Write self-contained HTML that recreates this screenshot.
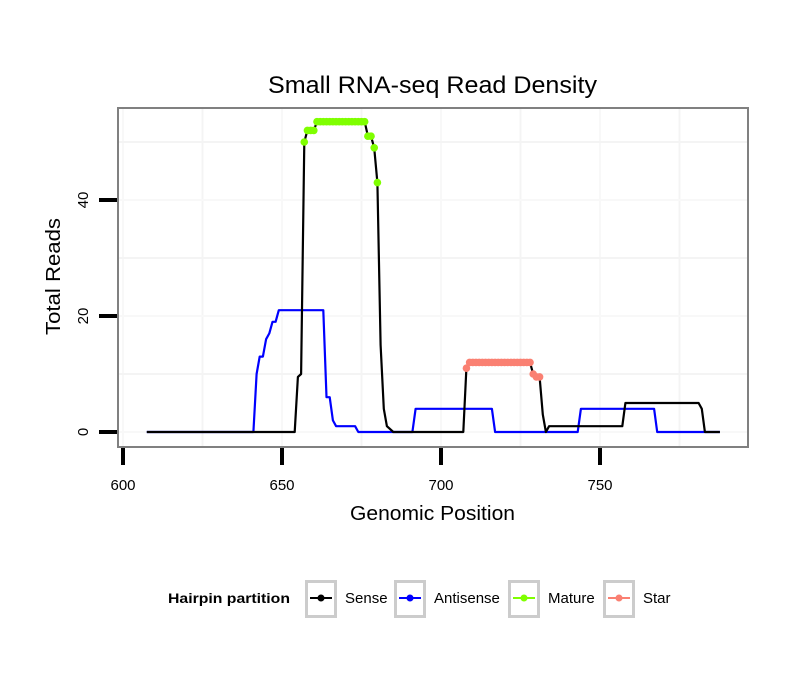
<!DOCTYPE html>
<html><head><meta charset="utf-8"><style>
body{margin:0;background:#fff;font-family:"Liberation Sans",sans-serif;}
svg text{font-family:"Liberation Sans",sans-serif;}
</style></head><body>
<svg id="chart" width="810" height="690" xmlns="http://www.w3.org/2000/svg">
<rect width="810" height="690" fill="#fff"/>
<text x="268" y="93" font-size="24" textLength="329" lengthAdjust="spacingAndGlyphs">Small RNA-seq Read Density</text>
<g id="grid"></g>
<g id="series"></g>
<rect x="118" y="108" width="630" height="339" fill="none" stroke="#808080" stroke-width="2"/>
<g id="axes"></g>
<text x="350" y="520" font-size="20" textLength="165" lengthAdjust="spacingAndGlyphs">Genomic Position</text>
<text transform="translate(60,335) rotate(-90)" font-size="20" textLength="117" lengthAdjust="spacingAndGlyphs">Total Reads</text>
<g id="legend">
<text x="168" y="603" font-size="14" font-weight="bold" textLength="122" lengthAdjust="spacingAndGlyphs">Hairpin partition</text>
</g>
</svg>
<script>
const sensePos=[607.5,654,655,656,657,658,659,660,661,676,677,678,679,680,681,682,683,684,685,707,708,709,728,729,730,731,732,733,734,757,758,781,782,783,787.7];
const senseVals=[0,0,9.5,10,50,52,52,52,53.5,53.5,51,51,49,43,15,4,1,0.5,0,0,11,12,12,10,9.5,9.5,3,0,1,1,5,5,4,0,0];
const antiPos=[607.5,641,642,643,644,645,646,647,648,649,663,664,665,666,667,673,674,691,692,716,717,743,744,767,768,787.7];
const antiVals=[0,0,10,13,13,16,17,19,19,21,21,6,6,2,1,1,0,0,4,4,0,0,4,4,0,0];
const matureRange=[657,680];
const starRange=[708,731];
const xTicks=[600,650,700,750];
const yTicks=[0,20,40];
const NS="http://www.w3.org/2000/svg";
function sx(p){return 123+(p-600)*3.18;}
function sy(v){return 432-v*5.8;}
function mk(tag,attrs,parent){const e=document.createElementNS(NS,tag);for(const k in attrs)e.setAttribute(k,attrs[k]);parent.appendChild(e);return e;}
const grid=document.getElementById('grid'),ser=document.getElementById('series'),axes=document.getElementById('axes'),leg=document.getElementById('legend');
for(let p=575;p<=800;p+=25){const x=sx(p);if(x>118&&x<748){const l=mk('line',{x1:x,x2:x,y1:108,y2:447,stroke:p%50?'#f4f4f4':'#f8f8f8','stroke-width':2},grid);}}
for(let v=0;v<=60;v+=10){const y=sy(v);if(y>108&&y<447){const l=mk('line',{x1:118,x2:748,y1:y,y2:y,stroke:v%20?'#f4f4f4':'#f8f8f8','stroke-width':2},grid);}}
function interp(pos,vals,p){for(let i=0;i<pos.length-1;i++){if(p>=pos[i]&&p<=pos[i+1]){const t=(p-pos[i])/((pos[i+1]-pos[i])||1);return vals[i]+(vals[i+1]-vals[i])*t;}}return 0;}
function line(pos,vals,color,name){const d=pos.map((p,i)=>(i?'L':'M')+sx(p).toFixed(1)+','+sy(vals[i]).toFixed(1)).join(' ');const e=mk('path',{d:d,fill:'none',stroke:color,'stroke-width':2.2,'stroke-linejoin':'round'},ser);}
line(antiPos,antiVals,'#0000ff','antisense-line');
line(sensePos,senseVals,'#000000','sense-line');
function pts(r,color,name){for(let p=r[0];p<=r[1];p++){const c=mk('circle',{cx:sx(p),cy:sy(interp(sensePos,senseVals,p)),r:3.8,fill:color},ser);}}
pts(matureRange,'#7fff00','mature-point');
pts(starRange,'#fa8072','star-point');
xTicks.forEach(t=>{const x=sx(t);const l=mk('line',{x1:x,x2:x,y1:448,y2:465,stroke:'#000','stroke-width':4},axes);
const tx=mk('text',{x:x,y:490,'font-size':15,'text-anchor':'middle'},axes);tx.textContent=t;});
yTicks.forEach(t=>{const y=sy(t);const l=mk('line',{x1:99,x2:117,y1:y,y2:y,stroke:'#000','stroke-width':4},axes);
const tx=mk('text',{transform:'translate(88,'+y+') rotate(-90)','font-size':15,'text-anchor':'middle'},axes);tx.textContent=t;});
const legItems=[['Sense','#000',305],['Antisense','#0000ff',394],['Mature','#7fff00',508],['Star','#fa8072',603]];
legItems.forEach(it=>{const g=mk('g',{},leg);
mk('rect',{x:it[2]+1.5,y:581.5,width:29,height:35,fill:'#fff',stroke:'#cccccc','stroke-width':3},g);
mk('line',{x1:it[2]+5,x2:it[2]+27,y1:598,y2:598,stroke:it[1],'stroke-width':2},g);
mk('circle',{cx:it[2]+16,cy:598,r:3.5,fill:it[1]},g);
const t=mk('text',{x:it[2]+40,y:603,'font-size':15},g);t.textContent=it[0];});
</script>
</body></html>
